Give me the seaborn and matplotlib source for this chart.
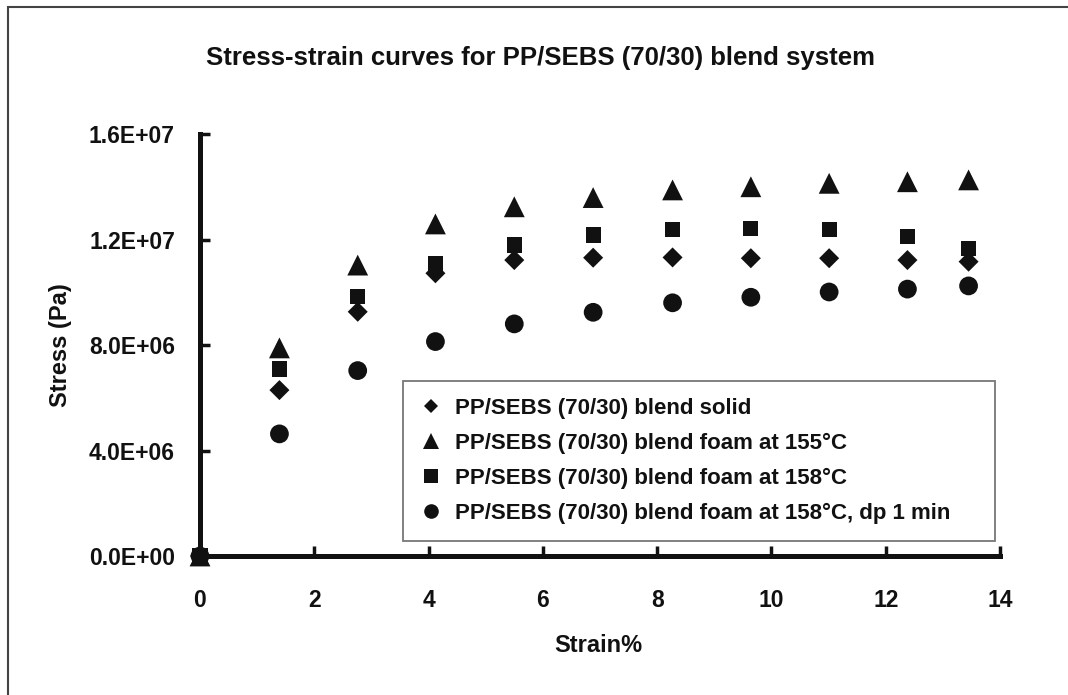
import pandas as pd
import numpy as np
import matplotlib
matplotlib.use('Agg')
import matplotlib.pyplot as plt
import seaborn as sns
from matplotlib.lines import Line2D
from matplotlib.patches import Rectangle
from matplotlib.ticker import FuncFormatter

sns.set_theme(style='white')
plt.rcParams['font.family'] = ['Liberation Sans', 'DejaVu Sans']
plt.rcParams['font.weight'] = 'bold'
plt.rcParams['axes.labelweight'] = 'bold'

# Data
strain = [0, 1.39, 2.76, 4.12, 5.50, 6.88, 8.27, 9.64, 11.01, 12.38, 13.45]
solid = [0, 6.29e6, 9.26e6, 10.72e6, 11.22e6, 11.31e6, 11.32e6, 11.29e6, 11.29e6, 11.22e6, 11.16e6]
foam_155 = [0, 7.89e6, 11.03e6, 12.59e6, 13.24e6, 13.59e6, 13.88e6, 14.0e6, 14.13e6, 14.19e6, 14.26e6]
foam_158 = [0, 7.09e6, 9.83e6, 11.10e6, 11.79e6, 12.17e6, 12.39e6, 12.41e6, 12.39e6, 12.11e6, 11.67e6]
foam_158_dp = [0, 4.63e6, 7.03e6, 8.13e6, 8.80e6, 9.24e6, 9.60e6, 9.81e6, 10.01e6, 10.12e6, 10.24e6]

labels = ['PP/SEBS (70/30) blend solid',
          'PP/SEBS (70/30) blend foam at 155°C',
          'PP/SEBS (70/30) blend foam at 158°C',
          'PP/SEBS (70/30) blend foam at 158°C, dp 1 min']
series = [solid, foam_155, foam_158, foam_158_dp]

# style per series: marker, size in plot, size in legend
markers = {labels[0]: 'D', labels[1]: '^', labels[2]: 's', labels[3]: 'o'}
plot_ms = {labels[0]: 10.2, labels[1]: 15, labels[2]: 11, labels[3]: 13.5}
legend_ms = {labels[0]: 7, labels[1]: 11, labels[2]: 10, labels[3]: 10.5}

df = pd.concat([pd.DataFrame({'strain': strain, 'stress': s, 'series': lab})
                for lab, s in zip(labels, series)], ignore_index=True)

fig = plt.figure(figsize=(10.68, 6.95), dpi=100)
fig.patch.set_facecolor('white')
ax = fig.add_axes([200/1068, 1-556/695, 800/1068, 422/695])

sns.scatterplot(data=df, x='strain', y='stress', hue='series', style='series',
                size='series', markers=markers,
                palette={l: '#111111' for l in labels},
                sizes={l: plot_ms[l]**2 for l in labels},
                edgecolor='none', linewidth=0, legend=False, ax=ax, clip_on=False, zorder=3)

ax.set_xlim(0, 14)
ax.set_ylim(0, 1.6e7)
ax.set_xticks(np.arange(0, 15, 2))
ax.set_yticks(np.arange(0, 1.61e7, 4e6))
ax.yaxis.set_major_formatter(FuncFormatter(lambda v, p: f'{v:.1E}'))

for side in ['top', 'right']:
    ax.spines[side].set_visible(False)
for side in ['left', 'bottom']:
    ax.spines[side].set_color('#111111')
    ax.spines[side].set_linewidth(3.6)

ax.tick_params(axis='y', direction='in', length=7, width=2.5, color='#111111',
               pad=18, labelsize=16.5, labelcolor='#111111', left=True)
ax.tick_params(axis='x', direction='in', length=7, width=2.5, color='#111111',
               pad=24, labelsize=16.5, labelcolor='#111111', bottom=True)
ax.grid(False)

ax.set_xlabel('Strain%', fontsize=17, color='#111111')
ax.set_ylabel('Stress (Pa)', fontsize=17, color='#111111')
ax.xaxis.set_label_coords(0.4975, -0.185)
ax.yaxis.set_label_coords(-0.16, 0.5)

handles = [Line2D([], [], ls='none', marker=markers[l], markersize=legend_ms[l],
                  color='#111111', markeredgewidth=0) for l in labels]
leg = ax.legend(handles, labels, loc='upper left',
                bbox_to_anchor=(0.254, 0.4147, 0.74, 0.0), mode='expand',
                frameon=True, fancybox=False, fontsize=16, handlelength=1.0,
                handletextpad=0.6, labelspacing=0.63, borderpad=0.75, borderaxespad=0)
leg.get_frame().set_edgecolor('#555555')
leg.get_frame().set_linewidth(1.3)
for t in leg.get_texts():
    t.set_color('#111111')

fig.text(540/1068, 1-46/695, 'Stress-strain curves for PP/SEBS (70/30) blend system',
         ha='center', va='top', fontsize=18.5, fontweight='bold', color='#111111')

# outer chart frame (open at right and bottom edges of the crop)
fig.patches.append(Rectangle((8/1068, -0.1), 1.2, 1.1 - 7/695, transform=fig.transFigure,
                             fill=False, edgecolor='#444444', linewidth=1.5))

fig.savefig('out.png', dpi=100)
